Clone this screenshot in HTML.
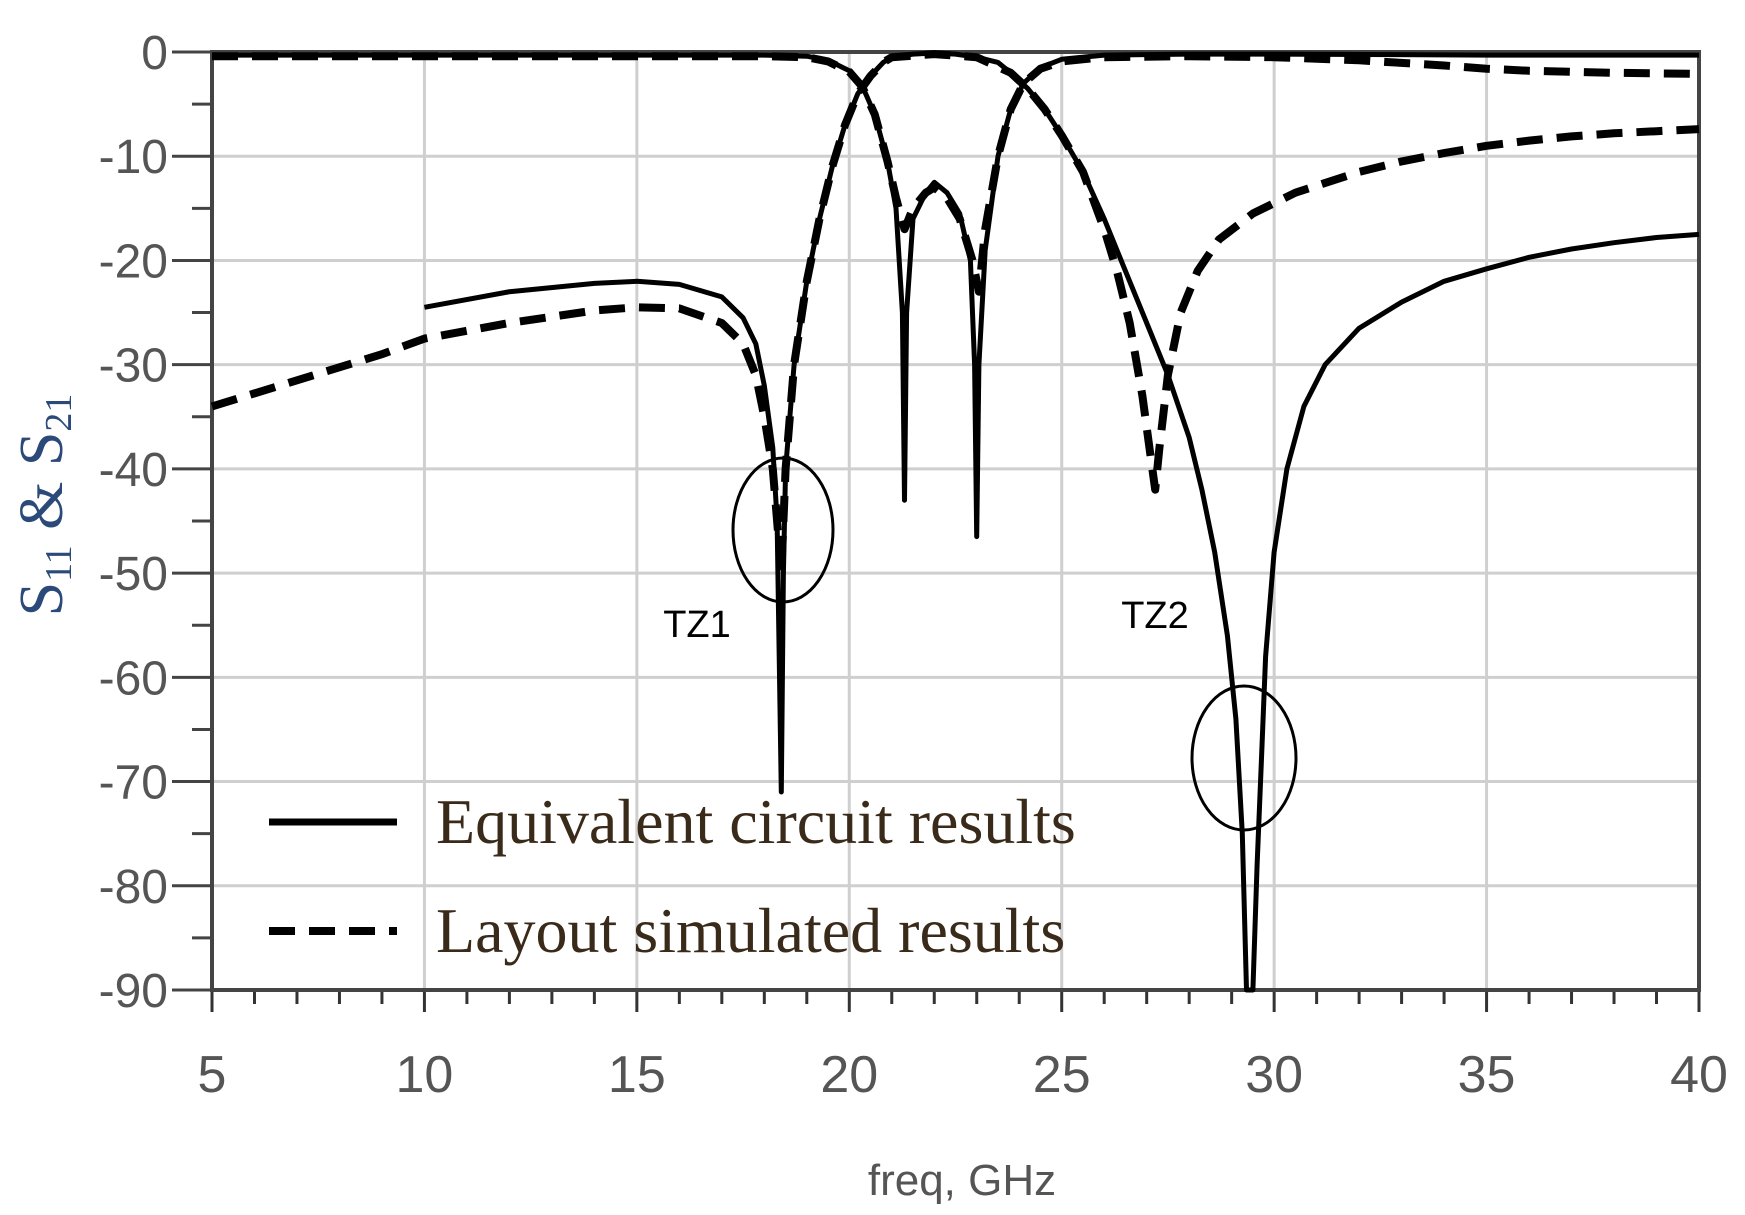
<!DOCTYPE html>
<html><head><meta charset="utf-8"><style>
html,body{margin:0;padding:0;background:#fff;}
svg{display:block;}
</style></head><body>
<svg id="chart" width="1745" height="1215" viewBox="0 0 1745 1215" xmlns="http://www.w3.org/2000/svg">
<g id="grid"></g>
<g id="axes"></g>
<g id="series"></g>
<text x="962" y="1195" text-anchor="middle" font-family="Liberation Sans, sans-serif" font-size="44" fill="#555">freq, GHz</text>
<text transform="translate(62,505) rotate(-90)" text-anchor="middle" font-family="Liberation Serif, serif" font-size="62" fill="#2b4a7a">S<tspan font-size="38" dy="9">11</tspan><tspan dy="-9"> &amp; S</tspan><tspan font-size="38" dy="9">21</tspan></text>
<ellipse cx="783" cy="530" rx="50" ry="72" fill="none" stroke="#000" stroke-width="3"/>
<ellipse cx="1244" cy="758" rx="52" ry="72" fill="none" stroke="#000" stroke-width="3"/>
<text x="697" y="637" text-anchor="middle" font-family="Liberation Sans, sans-serif" font-size="38" fill="#000">TZ1</text>
<text x="1155" y="628" text-anchor="middle" font-family="Liberation Sans, sans-serif" font-size="38" fill="#000">TZ2</text>
<g>
<line x1="269" y1="822" x2="397" y2="822" stroke="#000" stroke-width="7"/>
<text x="436" y="843" font-family="Liberation Serif, serif" font-size="64" fill="#3a2a1a">Equivalent circuit results</text>
<line x1="269" y1="931" x2="397" y2="931" stroke="#000" stroke-width="8" stroke-dasharray="26,14"/>
<text x="436" y="952" font-family="Liberation Serif, serif" font-size="64" fill="#3a2a1a">Layout simulated results</text>
</g>
</svg>
<script>
const xTicks=[5,10,15,20,25,30,35,40];
const yTicks=[0,-10,-20,-30,-40,-50,-60,-70,-80,-90];
const s21CircuitF=[10,12,14,15,16,17,17.5,17.8,18.0,18.2,18.3,18.4,18.45,18.5,18.7,19.0,19.3,19.6,19.9,20.2,20.5,20.8,21,21.5,22,22.5,23,23.5,23.8,24.2,24.6,25,25.5,26,26.5,27,27.5,28,28.3,28.6,28.9,29.1,29.25,29.35,29.5,29.6,29.7,29.8,30,30.3,30.7,31.2,32,33,34,35,36,37,38,39,40];
const s21CircuitV=[-24.5,-23,-22.2,-22,-22.3,-23.5,-25.5,-28,-32,-38,-45,-71,-50,-40,-30,-22,-16,-11,-7,-4,-2.3,-1,-0.5,-0.2,-0.1,-0.2,-0.5,-1,-2,-3.5,-5.5,-8,-11.5,-16,-21,-26,-31,-37,-42,-48,-56,-64,-75,-90,-90,-78,-68,-58,-48,-40,-34,-30,-26.5,-24,-22,-20.8,-19.7,-18.9,-18.3,-17.8,-17.5];
const s21LayoutF=[5,7,9,10,12,14,15,16,17,17.5,17.8,18.0,18.2,18.3,18.4,18.5,18.7,19.0,19.3,19.6,19.9,20.2,20.5,20.8,21,22,23,23.8,24.2,24.6,25,25.5,26,26.3,26.6,26.9,27.1,27.2,27.3,27.5,27.8,28.2,28.7,29.5,30.5,32,33,34,35,36,37,38,39,40];
const s21LayoutV=[-34,-31.5,-29,-27.5,-26,-24.8,-24.5,-24.6,-26,-28,-31,-35,-40,-45,-50,-40,-30,-22,-16,-11,-7,-4,-2.3,-1,-0.5,-0.2,-0.5,-2,-3.5,-5.5,-8,-11.5,-17,-21,-26,-33,-39,-42,-38,-31,-25,-21,-18,-15.5,-13.5,-11.5,-10.5,-9.7,-9,-8.5,-8.1,-7.8,-7.6,-7.4];
const s11CircuitF=[5,10,15,18,19,19.5,20,20.3,20.6,20.9,21.1,21.25,21.3,21.35,21.5,21.8,22,22.3,22.6,22.85,22.95,23.0,23.05,23.2,23.5,23.8,24.1,24.5,25,26,28,30,35,40];
const s11CircuitV=[-0.3,-0.3,-0.3,-0.3,-0.4,-0.8,-1.8,-3.2,-6,-10.5,-15,-25,-43,-25,-16,-13.5,-12.5,-13.5,-15.5,-20,-30,-46.5,-30,-19,-10,-5.5,-3,-1.5,-0.7,-0.3,-0.2,-0.2,-0.3,-0.3];
const s11LayoutF=[5,10,15,18,19,19.5,20,20.3,20.6,20.9,21.1,21.3,21.5,21.8,22,22.3,22.6,22.9,23.05,23.2,23.5,23.8,24.1,24.5,25,26,28,30,32,34,35,36,38,40];
const s11LayoutV=[-0.4,-0.4,-0.4,-0.4,-0.5,-0.9,-1.9,-3.3,-6,-10.5,-14,-17,-15,-13.5,-13,-14,-16,-20,-23,-17,-10,-5.5,-3,-1.6,-0.9,-0.5,-0.4,-0.5,-0.8,-1.3,-1.6,-1.8,-2,-2.1];

const NS='http://www.w3.org/2000/svg';
const X0=212,X1=1699,Y0=52,Y1=990,FMIN=5,FMAX=40,DMIN=-90,DMAX=0;
function xs(f){return X0+(f-FMIN)/(FMAX-FMIN)*(X1-X0);}
function ys(d){return Y0+(DMAX-d)/(DMAX-DMIN)*(Y1-Y0);}
function mk(tag,attrs,parent){const e=document.createElementNS(NS,tag);for(const k in attrs)e.setAttribute(k,attrs[k]);parent.appendChild(e);return e;}
const grid=document.getElementById('grid'),axes=document.getElementById('axes'),series=document.getElementById('series');
xTicks.forEach(function(t){
  const g=mk('line',{x1:xs(t),y1:Y0,x2:xs(t),y2:Y1,stroke:'#cfcfcf','stroke-width':3},grid);
  
  
  const tk=mk('line',{x1:xs(t),y1:Y1,x2:xs(t),y2:Y1+22,stroke:'#333','stroke-width':3},axes);
  
  
  const lb=mk('text',{x:xs(t),y:1092,'text-anchor':'middle','font-family':'Liberation Sans, sans-serif','font-size':52,fill:'#555'},axes);
  lb.textContent=t;
  
  
});
for(let f=FMIN+1;f<FMAX;f++){if(f%5===0)continue;
  const m=mk('line',{x1:xs(f),y1:Y1,x2:xs(f),y2:Y1+14,stroke:'#333','stroke-width':3},axes);
  
  
}
yTicks.forEach(function(t){
  const g=mk('line',{x1:X0,y1:ys(t),x2:X1,y2:ys(t),stroke:'#cfcfcf','stroke-width':3},grid);
  
  
  const tk=mk('line',{x1:X0-40,y1:ys(t),x2:X0,y2:ys(t),stroke:'#444','stroke-width':3},axes);
  
  
  const lb=mk('text',{x:168,y:ys(t)+17,'text-anchor':'end','font-family':'Liberation Sans, sans-serif','font-size':48,fill:'#555'},axes);
  lb.textContent=t;
  
  
});
for(let d=-5;d>DMIN;d-=10){
  const m=mk('line',{x1:X0-20,y1:ys(d),x2:X0,y2:ys(d),stroke:'#444','stroke-width':3},axes);
  
  
}
const frame=mk('rect',{x:X0,y:Y0,width:X1-X0,height:Y1-Y0,fill:'none',stroke:'#444','stroke-width':4},axes);


function line(F,V,dash,name){
  const pts=F.map(function(f,i){return xs(f).toFixed(1)+','+ys(V[i]).toFixed(1);}).join(' ');
  const a={points:pts,fill:'none',stroke:'#000','stroke-width':dash?8:5,'stroke-linejoin':'round'};
  if(dash)a['stroke-dasharray']='26,14';
  const p=mk('polyline',a,series);
  
  
}
line(s21LayoutF,s21LayoutV,true,'s21-layout-line');
line(s11LayoutF,s11LayoutV,true,'s11-layout-line');
line(s21CircuitF,s21CircuitV,false,'s21-circuit-line');
line(s11CircuitF,s11CircuitV,false,'s11-circuit-line');
</script>
</body></html>
